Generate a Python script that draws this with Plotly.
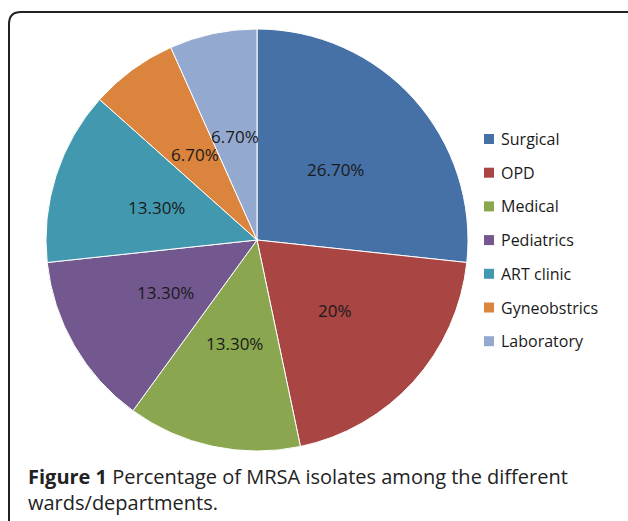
import math
import plotly.graph_objects as go

categories = ["Surgical", "OPD", "Medical", "Pediatrics", "ART clinic", "Gyneobstrics", "Laboratory"]
values = [26.7, 20, 13.3, 13.3, 13.3, 6.7, 6.7]
value_labels = ["26.70%", "20%", "13.30%", "13.30%", "13.30%", "6.70%", "6.70%"]
colors = ["#4571A6", "#A94542", "#8AA64F", "#72588F", "#4299AF", "#DA843D", "#94A9CF"]

W, H = 628, 521
CX, CY, R = 257, 240, 211  # pie centre / radius in px

fig = go.Figure()
fig.add_trace(go.Pie(
    labels=categories, values=values, text=value_labels,
    textinfo="none", sort=False, direction="clockwise", rotation=0,
    marker=dict(colors=colors, line=dict(color="white", width=1)),
    domain=dict(x=[(CX - R) / W, (CX + R) / W], y=[1 - (CY + R) / H, 1 - (CY - R) / H]),
    showlegend=False, hoverinfo="label+text",
))

annotations = []
shapes = []
# slice labels at half radius, on each slice's mid angle
total = sum(values)
cum = 0.0
for v, lab in zip(values, value_labels):
    mid = (cum + v / 2) / total * 2 * math.pi
    cum += v
    px = CX + 0.5 * R * math.sin(mid)
    py = CY - 0.5 * R * math.cos(mid)
    annotations.append(dict(x=px / W, y=1 - py / H, xref="paper", yref="paper",
                            text=lab, showarrow=False, xanchor="center", yanchor="middle",
                            font=dict(family="Open Sans", size=17, color="#1a1a1a")))

# legend
for i, (c, col) in enumerate(zip(categories, colors)):
    yc = 139 + 33.7 * i
    shapes.append(dict(type="rect", xref="paper", yref="paper",
                       x0=484 / W, x1=494 / W, y0=1 - (yc + 5) / H, y1=1 - (yc - 5) / H,
                       fillcolor=col, line=dict(width=0)))
    annotations.append(dict(x=499 / W, y=1 - yc / H, xref="paper", yref="paper",
                            text=c, showarrow=False, xanchor="left", yanchor="middle",
                            font=dict(family="Open Sans", size=16, color="#1a1a1a")))

# frame
shapes.append(dict(type="path", xref="paper", yref="paper",
                   path=f"M {9/W},-0.1 L {9/W},{1-24/H} Q {9/W},{1-12/H} {21/W},{1-12/H} L 1.2,{1-12/H}",
                   line=dict(color="#222222", width=2)))

annotations.append(dict(
    x=26 / W, y=1 - 489 / H, xref="paper", yref="paper", xanchor="left", yanchor="middle",
    align="left", showarrow=False,
    text="<b>Figure 1</b> Percentage of MRSA isolates among the different<br>wards/departments.",
    font=dict(family="Open Sans", size=20, color="#222222"),
))

fig.update_layout(
    width=W, height=H,
    margin=dict(l=0, r=0, t=0, b=0),
    paper_bgcolor="white",
    shapes=shapes, annotations=annotations,
)

fig.write_html("out.html", config={"displayModeBar": False},
               post_script="document.body.style.margin='0px';")
